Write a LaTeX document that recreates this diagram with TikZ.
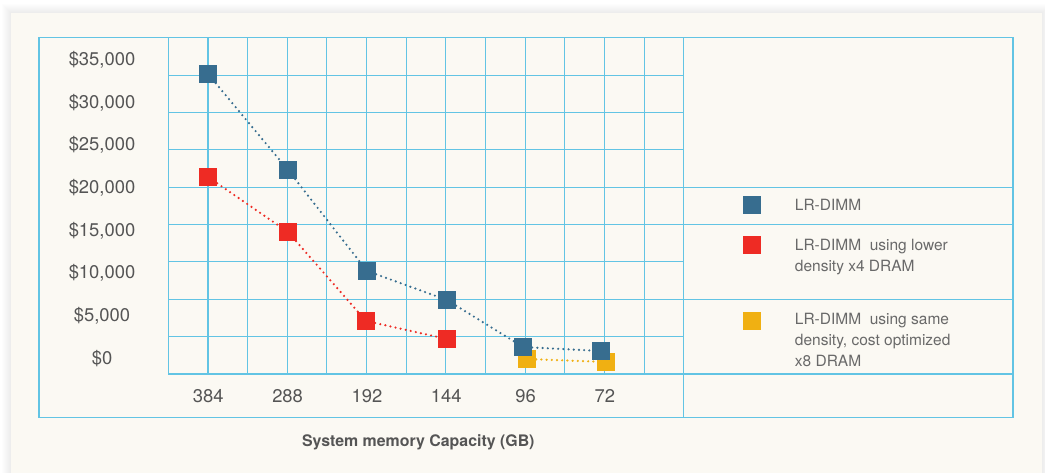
\documentclass[tikz,border=0pt]{standalone}
\usepackage{fontspec}
\setmainfont{TeX Gyre Heros}
\usepackage{xcolor}
\usetikzlibrary{positioning}

\definecolor{panel}{RGB}{251,249,243}
\definecolor{gridblue}{RGB}{98,196,228}
\definecolor{dimmblue}{RGB}{55,109,143}
\definecolor{dimmred}{RGB}{238,43,36}
\definecolor{dimmyellow}{RGB}{240,176,18}
\definecolor{labelgray}{RGB}{85,85,85}
\definecolor{leggray}{RGB}{105,105,105}

\begin{document}
\begin{tikzpicture}[x=1pt, y=-1pt,
    gridline/.style={gridblue, line width=1.1pt},
    sq/.style={rectangle, minimum size=18pt, inner sep=0pt},
    dots/.style={line width=2.4pt, line cap=round, dash pattern=on 0pt off 5.2pt},
    ylab/.style={text=labelgray, font=\fontsize{18.4}{20}\selectfont},
    legtext/.style={text=leggray, align=left, inner sep=0pt, anchor=north west, font=\fontsize{15.5}{21}\selectfont}]
    \useasboundingbox (0,0) rectangle (1045,473);

    % Panel with a soft shadow
    \foreach \s in {1,...,9} \fill[black, opacity=0.009] (11-\s,13-\s) rectangle (1042+\s,490);
    \fill[panel] (11,13) rectangle (1042,490);

    % Grid and frame
    \foreach \i in {0,...,13} \draw[gridline] (168.3+39.65*\i,37.7) -- (168.3+39.65*\i,374);
    \foreach \j in {0,...,9} \draw[gridline] (168.3,37.7+37.37*\j) -- (683.7,37.7+37.37*\j);
    \foreach \yy in {187.3,224.7,299.3,374} \draw[gridline] (683.7,\yy) -- (1013,\yy);
    \draw[gridline] (683.7,374) -- (683.7,417.3);
    \draw[gridline] (39,37.7) rectangle (1013,417.3);

    % Axis labels
    \foreach \v [count=\i from 0] in {35,30,25,20,15,10,5}
        \node[ylab] (y\i) at (102,60+42.6*\i) {\$\v,000};
    \node[ylab] (y7) at (102,358.3) {\$0};
    \foreach \c [count=\i from 0] in {384,288,192,144,96,72}
        \node[ylab] (x\c) at (208.3+79.3*\i,395.7) {\c};
    \node[text=labelgray, font=\fontsize{15.9}{18}\selectfont\bfseries] (title) at (418.3,442) {System memory Capacity (GB)};

    % Same density x8 DRAM
    \node[sq, fill=dimmyellow] (y96) at (527,359) {};
    \node[sq, fill=dimmyellow] (y72) at (606,362) {};
    \draw[dots, dimmyellow] (y96) -- (y72);

    % LR-DIMM
    \node[sq, fill=dimmblue] (b384) at (208,74) {};
    \node[sq, fill=dimmblue] (b288) at (288,170) {};
    \node[sq, fill=dimmblue] (b192) at (367,271) {};
    \node[sq, fill=dimmblue] (b144) at (447,300) {};
    \node[sq, fill=dimmblue] (b96) at (523,347) {};
    \node[sq, fill=dimmblue] (b72) at (601,351) {};
    \draw[dots, dimmblue] (b384) -- (b288) -- (b192) -- (b144) -- (b96) -- (b72);

    % Lower density x4 DRAM
    \node[sq, fill=dimmred] (r384) at (208,177) {};
    \node[sq, fill=dimmred] (r288) at (288,232) {};
    \node[sq, fill=dimmred] (r192) at (366,321) {};
    \node[sq, fill=dimmred] (r144) at (447,339) {};
    \draw[dots, dimmred] (r384) -- (r288) -- (r192) -- (r144);

    % Legend
    \node[sq, fill=dimmblue] (lgb) at (752,205) {};
    \node[sq, fill=dimmred] (lgr) at (752,245) {};
    \node[sq, fill=dimmyellow] (lgy) at (752,321) {};
    \node[legtext] (lgbtxt) at (794.7,199.5) {LR-DIMM};
    \node[legtext] (lgrtxt) at (794.7,238.8) {LR-DIMM\ \ using lower\\density x4 DRAM};
    \node[legtext] (lgytxt) at (794.7,312.8) {LR-DIMM\ \ using same\\density, cost optimized\\x8 DRAM};
\end{tikzpicture}
\end{document}
